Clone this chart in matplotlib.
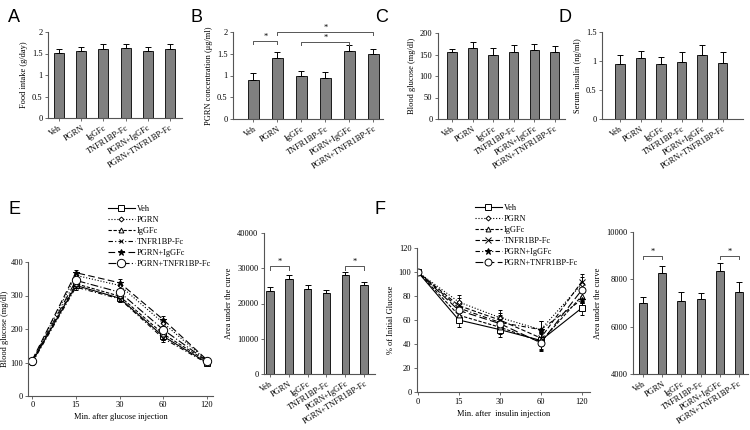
import matplotlib
matplotlib.use("Agg")
import matplotlib.pyplot as plt
from matplotlib.ticker import FormatStrFormatter

plt.rcParams['font.family'] = ['Liberation Serif', 'DejaVu Serif']

groups = ['Veh', 'PGRN', 'IgGFc', 'TNFR1BP-Fc', 'PGRN+IgGFc', 'PGRN+TNFR1BP-Fc']

# A - food intake
food = [1.51, 1.56, 1.61, 1.63, 1.55, 1.60]
food_err = [0.10, 0.09, 0.12, 0.08, 0.09, 0.12]
# B - PGRN concentration
pgrn = [0.90, 1.40, 1.00, 0.95, 1.56, 1.50]
pgrn_err = [0.15, 0.14, 0.11, 0.14, 0.15, 0.10]
# C - blood glucose
glu = [155, 165, 149, 155, 160, 156]
glu_err = [8, 14, 15, 17, 14, 14]
# D - serum insulin
ins = [0.95, 1.05, 0.94, 0.98, 1.10, 0.96]
ins_err = [0.15, 0.12, 0.13, 0.17, 0.18, 0.20]

# E - GTT
times = ['0', '15', '30', '60', '120']
gtt = {
    'Veh': [103, 330, 292, 178, 100],
    'PGRN': [106, 360, 330, 218, 106],
    'IgGFc': [104, 335, 298, 185, 104],
    'TNFR1BP-Fc': [100, 325, 290, 172, 98],
    'PGRN+IgGFc': [108, 368, 338, 228, 108],
    'PGRN+TNFR1BP-Fc': [105, 345, 310, 198, 105],
}
gtt_err = [6, 8, 10, 10, 6]
gtt_auc = [23600, 27000, 24100, 22900, 27950, 25300]
gtt_auc_err = [1050, 1050, 1100, 900, 850, 800]

# F - ITT
itt = {
    'Veh': [100, 60, 52, 43, 70],
    'PGRN': [100, 75, 62, 52, 90],
    'IgGFc': [100, 64, 54, 42, 80],
    'TNFR1BP-Fc': [100, 72, 60, 45, 92],
    'PGRN+IgGFc': [100, 70, 58, 52, 77],
    'PGRN+TNFR1BP-Fc': [100, 68, 57, 41, 85],
}
itt_err = [0, 6, 6, 7, 6]
itt_auc = [7020, 8270, 7090, 7160, 8350, 7480]
itt_auc_err = [250, 280, 390, 280, 350, 420]

W, H = 750, 430
fig = plt.figure(figsize=(7.5, 4.3), dpi=100)


def add_ax(x0, y0, x1, y1):
    return fig.add_axes([x0 / W, 1 - y1 / H, (x1 - x0) / W, (y1 - y0) / H])


def style(ax, pad=2):
    for s in ['top', 'right']:
        ax.spines[s].set_visible(False)
    for s in ['left', 'bottom']:
        ax.spines[s].set_color('#555555')
        ax.spines[s].set_linewidth(0.8)
    ax.tick_params(length=2, width=0.6, color='#555555', labelsize=6, pad=pad)


def bar_panel(ax, vals, errs, ylim, yticks, ylabel, xlim, fmt='%g', width=0.45):
    x = range(len(vals))
    ax.bar(x, vals, width=width, color='#808080', edgecolor='black', linewidth=0.6,
           yerr=[[0] * len(errs), errs], capsize=2,
           error_kw=dict(elinewidth=0.7, capthick=0.7, ecolor='black'))
    ax.set_ylim(*ylim)
    ax.set_yticks(yticks)
    ax.yaxis.set_major_formatter(FormatStrFormatter(fmt))
    ax.set_xlim(*xlim)
    ax.set_xticks(list(x))
    ax.set_xticklabels(groups, rotation=32, ha='right', rotation_mode='anchor', fontsize=5.5)
    ax.set_ylabel(ylabel, fontsize=6, labelpad=3)
    style(ax)


def bracket(ax, x0, x1, y, h):
    ax.plot([x0, x0, x1, x1], [y - h, y, y, y - h], color='#555555', lw=0.7, clip_on=False)
    ax.text((x0 + x1) / 2, y + h * 0.2, '*', ha='center', va='bottom', fontsize=6)


axA = add_ax(48, 32, 182, 118)
bar_panel(axA, food, food_err, (0, 2), [0, 0.5, 1, 1.5, 2], 'Food intake (g/day)', (-0.5, 5.55))

axB = add_ax(233, 32, 383, 119)
bar_panel(axB, pgrn, pgrn_err, (0, 2), [0, 0.5, 1, 1.5, 2], 'PGRN concentration (\u03bcg/ml)', (-0.85, 5.4))
bracket(axB, 0, 1, 1.79, 0.07)
bracket(axB, 2, 4, 1.77, 0.07)
bracket(axB, 1, 5, 2.0, 0.07)

axC = add_ax(438, 33, 565, 119)
bar_panel(axC, glu, glu_err, (0, 200), [0, 50, 100, 150, 200], 'Blood glucose (mg/dl)', (-0.68, 5.5))

axD = add_ax(602, 32, 743, 119)
bar_panel(axD, ins, ins_err, (0, 1.5), [0, 0.5, 1, 1.5], 'Serum insulin (ng/ml)', (-0.88, 6.0))

styles_E = {
    'Veh': dict(ls='-', marker='s', ms=4),
    'PGRN': dict(ls=':', marker='D', ms=2.5),
    'IgGFc': dict(ls=(0, (3, 1.5)), marker='^', ms=3.5),
    'TNFR1BP-Fc': dict(ls=(0, (4, 2, 1, 2)), marker='x', ms=3.5),
    'PGRN+IgGFc': dict(ls=(0, (6, 3)), marker='*', ms=4.5),
    'PGRN+TNFR1BP-Fc': dict(ls=(0, (7, 2, 1, 2)), marker='o', ms=6),
}
styles_F = {
    'Veh': dict(ls='-', marker='s', ms=4),
    'PGRN': dict(ls=':', marker='D', ms=2.5),
    'IgGFc': dict(ls=(0, (3, 1.5)), marker='^', ms=3.5),
    'TNFR1BP-Fc': dict(ls=(0, (4, 2)), marker='x', ms=4),
    'PGRN+IgGFc': dict(ls=(0, (4, 2, 1, 2)), marker='*', ms=4.5),
    'PGRN+TNFR1BP-Fc': dict(ls=(0, (7, 3)), marker='o', ms=5),
}


def line_panel(ax, data, errs, sty, ylim, yticks, ylabel, xlabel, xlim, leg_xy, ypad=3):
    x = list(range(len(times)))
    for name in groups:
        st = sty[name]
        mfc = 'black' if st['marker'] == '*' else 'white'
        ax.errorbar(x, data[name], yerr=errs, color='black', lw=0.8, ls=st['ls'],
                    marker=st['marker'], ms=st['ms'], mfc=mfc, mec='black', mew=0.7,
                    elinewidth=0.6, capsize=1.5, label=name)
    ax.set_ylim(*ylim)
    ax.set_yticks(yticks)
    ax.set_xlim(*xlim)
    ax.set_xticks(x)
    ax.set_xticklabels(times)
    ax.set_ylabel(ylabel, fontsize=6, labelpad=ypad)
    ax.set_xlabel(xlabel, fontsize=6, labelpad=3)
    style(ax, pad=1.5 if ypad < 3 else 2)
    handles, labels = ax.get_legend_handles_labels()
    handles = [h[0] for h in handles]
    ax.legend(handles, labels, loc='upper left', bbox_to_anchor=leg_xy, frameon=False,
              fontsize=6, handlelength=3.2, handletextpad=0.3, labelspacing=0.35,
              borderpad=0, borderaxespad=0)


axE = add_ax(28, 262, 213, 396)
line_panel(axE, gtt, gtt_err, styles_E, (0, 400), [0, 100, 200, 300, 400],
           'Blood glucose (mg/dl)', 'Min. after glucose injection', (-0.1, 4.14),
           ((108 - 28) / 185, (396 - 205) / 134), ypad=1)

axE2 = add_ax(264, 233, 375, 374)
bar_panel(axE2, gtt_auc, gtt_auc_err, (0, 40000), [0, 10000, 20000, 30000, 40000],
          'Area under the curve', (-0.32, 5.58), width=0.4)
bracket(axE2, 0, 1, 30500, 900)
bracket(axE2, 4, 5, 30500, 900)

axF = add_ax(417, 248, 590, 392)
line_panel(axF, itt, itt_err, styles_F, (0, 120), [0, 20, 40, 60, 80, 100, 120],
           '% of Initial Glucose', 'Min. after  insulin injection', (-0.02, 4.2),
           ((475 - 417) / 173, (392 - 204) / 144))

axF2 = add_ax(633, 232, 748, 374)
bar_panel(axF2, itt_auc, itt_auc_err, (4000, 10000), [4000, 6000, 8000, 10000],
          'Area under the curve', (-0.52, 5.47), width=0.42)
bracket(axF2, 0, 1, 8970, 130)
bracket(axF2, 4, 5, 8970, 130)

for lab, x, y in [('A', 8, 22), ('B', 190, 22), ('C', 375, 22), ('D', 558, 22),
                  ('E', 8, 214), ('F', 375, 214)]:
    fig.text(x / W, 1 - y / H, lab, fontsize=13, family='Liberation Sans', va='baseline')

fig.savefig('out.png', dpi=100)
